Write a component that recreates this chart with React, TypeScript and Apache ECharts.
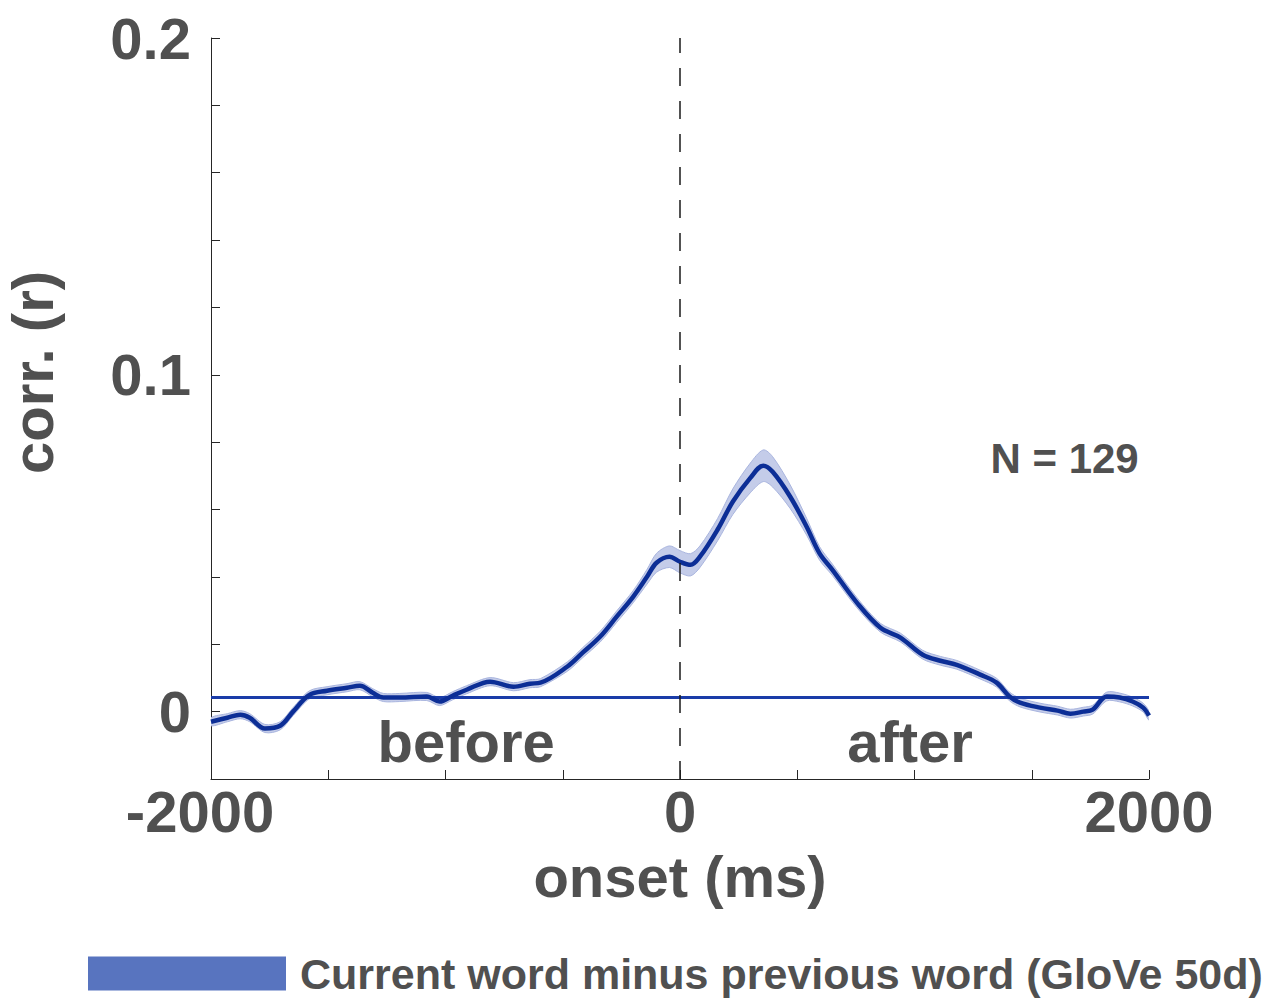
import React, { useEffect, useRef } from "react";
import * as echarts from "echarts";

const seriesName = "Current word minus previous word (GloVe 50d)";

const times = [
  -2000, -1930, -1875, -1835, -1770, -1705, -1650, -1580, -1505, -1420, -1365,
  -1310, -1265, -1195, -1080, -1025, -970, -910, -810, -710, -640, -595, -480,
  -415, -340, -270, -200, -140, -100, -45, 0, 45, 85, 160, 225, 300, 355, 395,
  470, 540, 595, 650, 755, 855, 940, 1035, 1110, 1180, 1280, 1350, 1405, 1450,
  1535, 1610, 1665, 1720, 1760, 1820, 1875, 1930, 1975, 2000,
];

const corr = [
  -0.003, -0.0018, -0.0009, -0.0018, -0.005, -0.0042, 0.0, 0.005, 0.0062,
  0.0071, 0.0077, 0.0056, 0.0042, 0.0042, 0.0045, 0.003, 0.0047, 0.0065,
  0.0089, 0.0074, 0.0083, 0.0086, 0.0134, 0.0175, 0.0223, 0.0282, 0.0341,
  0.0401, 0.0442, 0.046, 0.0445, 0.0436, 0.046, 0.054, 0.0623, 0.0694, 0.073,
  0.0712, 0.0638, 0.0549, 0.047, 0.0421, 0.0323, 0.0249, 0.022, 0.0169,
  0.0151, 0.0139, 0.011, 0.0086, 0.0045, 0.0027, 0.0012, 0.0003, -0.0006, 0.0,
  0.0006, 0.0045, 0.0042, 0.003, 0.0012, -0.0012,
];

const sem = [
  0.0012, 0.0012, 0.0012, 0.0012, 0.0012, 0.0012, 0.0012, 0.0012, 0.0012,
  0.0012, 0.0012, 0.0012, 0.0012, 0.0012, 0.0012, 0.0012, 0.0012, 0.0012,
  0.0012, 0.0012, 0.0012, 0.0012, 0.0014, 0.0015, 0.0016, 0.0017, 0.0018,
  0.0022, 0.0028, 0.0032, 0.0033, 0.0033, 0.0032, 0.0033, 0.0038, 0.0044,
  0.0047, 0.0045, 0.0035, 0.0025, 0.002, 0.0017, 0.0015, 0.0013, 0.0013,
  0.0013, 0.0013, 0.0013, 0.0013, 0.0013, 0.0013, 0.0013, 0.0013, 0.0013,
  0.0013, 0.0013, 0.0013, 0.0013, 0.0013, 0.0013, 0.0013, 0.0013,
];

const threshold = 0.0042;
const xRange = [-2000, 2000];
const xTickLabels = [-2000, 0, 2000];
const yTickLabels = [0, 0.1, 0.2];
const annotations = [
  { text: "before", t: -912, v: -0.009 },
  { text: "after", t: 981, v: -0.009 },
];
const nLabel = { text: "N = 129", t: 1640, v: 0.0753 };

const FONT = '"Liberation Sans", Arial, Helvetica, sans-serif';
const TEXT = "#505050";

export default function App() {
  const ref = useRef<HTMLDivElement>(null);

  useEffect(() => {
    if (!ref.current) return;
    const chart = echarts.init(ref.current, undefined, { renderer: "svg" });

    const mean = times.map((t, i) => [t, corr[i]]);

    const gridLeft = 211;
    const gridTop = 38;
    const gridW = 938;
    const gridH = 741;
    const xToPx = (t: number) => gridLeft + ((t - xRange[0]) / (xRange[1] - xRange[0])) * gridW;
    const yToPx = (v: number) => gridTop + ((0.2 - v) / 0.22) * gridH;

    const option: any = {
      animation: false,
      backgroundColor: "#ffffff",
      grid: {
        left: gridLeft,
        top: gridTop,
        width: gridW,
        height: gridH,
        containLabel: false,
        outerBoundsMode: "none",
      },
      legend: {
        left: 83,
        top: 947,
        itemWidth: 198,
        itemHeight: 34,
        data: [{ name: seriesName, icon: "rect", itemStyle: { color: "#5874bf" } }],
        textStyle: {
          fontSize: 43,
          fontWeight: "bold",
          color: TEXT,
          fontFamily: FONT,
          padding: [0, 0, 0, 9],
        },
      },
      xAxis: {
        type: "value",
        min: xRange[0],
        max: xRange[1],
        interval: 500,
        name: "onset (ms)",
        nameLocation: "middle",
        nameGap: 68,
        nameTextStyle: { fontSize: 58, fontWeight: "bold", color: TEXT, fontFamily: FONT },
        axisLine: { show: true, onZero: false, lineStyle: { color: "#262626", width: 1 } },
        axisTick: { show: true, inside: true, length: 9, lineStyle: { color: "#262626" } },
        splitLine: { show: false },
        axisLabel: {
          margin: 3,
          fontSize: 58,
          fontWeight: "bold",
          color: TEXT,
          fontFamily: FONT,
          formatter: (v: number) => {
            if (!xTickLabels.some((x) => Math.abs(x - v) < 1e-6)) return "";
            const s = String(Math.round(v));
            return v < 0 ? "{neg|" + s + "}" : s;
          },
          rich: {
            neg: {
              fontSize: 58,
              fontWeight: "bold",
              color: TEXT,
              fontFamily: FONT,
              padding: [0, 22, 0, 0],
            },
          },
        },
      },
      yAxis: {
        type: "value",
        min: -0.02,
        max: 0.2,
        interval: 0.02,
        name: "corr. (r)",
        nameLocation: "middle",
        nameRotate: 90,
        nameGap: 150,
        nameTextStyle: {
          fontSize: 58,
          fontWeight: "bold",
          color: TEXT,
          fontFamily: FONT,
          padding: [0, 0, 0, 72],
        },
        axisLine: { show: true, onZero: false, lineStyle: { color: "#262626", width: 1 } },
        axisTick: { show: true, inside: true, length: 9, lineStyle: { color: "#262626" } },
        splitLine: { show: false },
        axisLabel: {
          margin: 20,
          fontSize: 58,
          fontWeight: "bold",
          color: TEXT,
          fontFamily: FONT,
          formatter: (v: number) => {
            const hit = yTickLabels.find((y) => Math.abs(y - v) < 1e-9);
            return hit === undefined ? "" : String(hit);
          },
        },
      },
      series: [
        {
          name: "sem band",
          type: "custom",
          data: [[times[0], corr[0]]],
          silent: true,
          z: 2,
          clip: true,
          renderItem: (params: any, api: any) => {
            if (params.dataIndex !== 0) return null;
            const up = times.map((t, i) => api.coord([t, corr[i] + sem[i]]));
            const lo = times.map((t, i) => api.coord([t, corr[i] - sem[i]])).reverse();
            return {
              type: "group",
              children: [
                {
                  type: "polygon",
                  shape: { points: up.concat(lo), smooth: 0.3 },
                  style: { fill: "#c4cce9", stroke: "#a9b5df", lineWidth: 1 },
                },
              ],
            };
          },
        },
        {
          name: "threshold",
          type: "line",
          data: [
            [xRange[0], threshold],
            [xRange[1], threshold],
          ],
          symbol: "none",
          lineStyle: { color: "#1a3ca8", width: 3 },
          z: 3,
        },
        {
          name: seriesName,
          type: "line",
          data: mean,
          smooth: 0.35,
          symbol: "none",
          lineStyle: { color: "#0c2e96", width: 4.5 },
          z: 4,
          markLine: {
            silent: true,
            symbol: "none",
            label: { show: false },
            lineStyle: { color: "#1a1a1a", type: [18, 15], width: 1.5 },
            data: [{ xAxis: 0 }],
          },
        },
      ],
      graphic: [
        ...annotations.map((a) => ({
          type: "text",
          z: 100,
          x: xToPx(a.t),
          y: yToPx(a.v),
          style: {
            text: a.text,
            fontSize: 58,
            fontWeight: "bold",
            fill: TEXT,
            fontFamily: FONT,
            textAlign: "center",
            textVerticalAlign: "middle",
          },
        })),
        {
          type: "text",
          z: 100,
          x: xToPx(nLabel.t),
          y: yToPx(nLabel.v),
          style: {
            text: nLabel.text,
            fontSize: 42,
            fontWeight: "bold",
            fill: TEXT,
            fontFamily: FONT,
            textAlign: "center",
            textVerticalAlign: "middle",
          },
        },
      ],
    };

    chart.setOption(option);
    return () => chart.dispose();
  }, []);

  return (
    <div
      ref={ref}
      style={{ position: "fixed", left: 0, top: 0, width: 1275, height: 1000, background: "#fff" }}
    />
  );
}
